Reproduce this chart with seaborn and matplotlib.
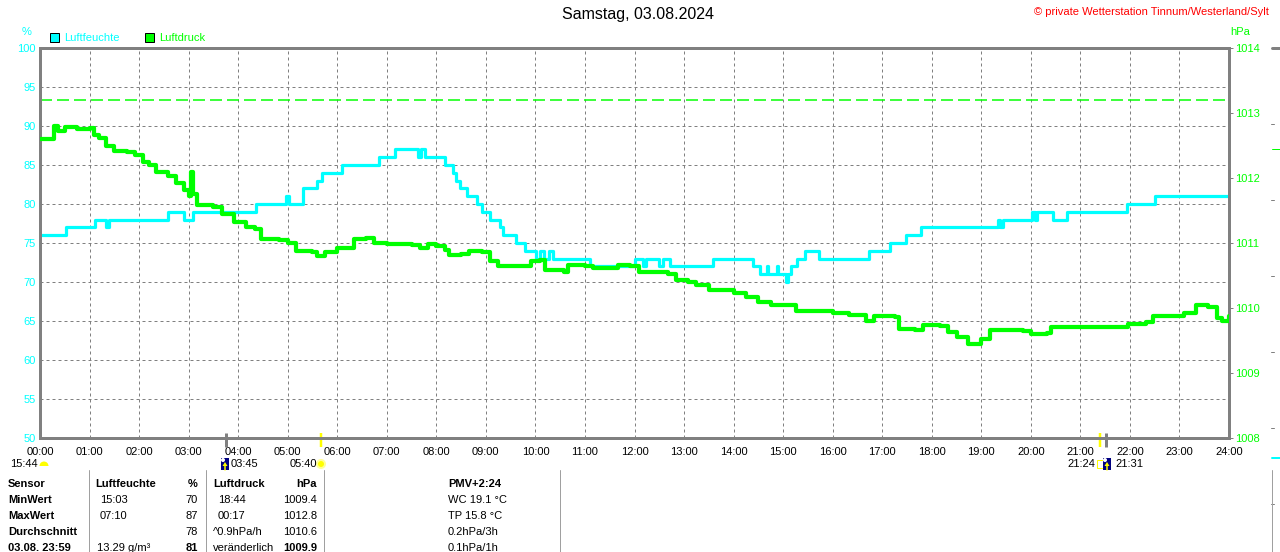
import matplotlib
matplotlib.use("Agg")
import matplotlib.pyplot as plt
import matplotlib.transforms as mtransforms
from matplotlib.patches import Rectangle, Circle, Wedge, Polygon
import seaborn as sns
import pandas as pd

sns.set_theme(style="white")
plt.rcParams['font.family'] = ['Liberation Sans', 'DejaVu Sans']
plt.rcParams['lines.scale_dashes'] = False

# ---------------- data ----------------
title = "Samstag, 03.08.2024"
copyright_text = "© private Wetterstation Tinnum/Westerland/Sylt"
series_names = ["Luftfeuchte", "Luftdruck"]

hum_times = ["00:00", "00:32", "01:07", "01:20", "01:24", "02:35", "02:55", "03:05",
             "04:22", "04:58", "05:02", "05:18", "05:35", "05:42", "06:06", "06:50",
             "07:10", "07:38", "07:42", "07:46", "08:10", "08:20", "08:24", "08:29",
             "08:37", "08:49", "08:55", "09:05", "09:17", "09:21", "09:37", "09:47",
             "10:01", "10:05", "10:10", "10:16", "10:21", "11:06", "12:00", "12:10",
             "12:14", "12:30", "12:34", "12:43", "13:35", "14:24", "14:32", "14:40",
             "14:42", "14:52", "14:54", "15:03", "15:06", "15:10", "15:17", "15:26",
             "15:44", "16:44", "17:10", "17:29", "17:47", "19:20", "19:23", "19:26",
             "20:02", "20:05", "20:08", "20:27", "20:44", "21:56", "22:30", "24:00"]
hum_values = [76, 77, 78, 77, 78, 79, 78, 79,
              80, 81, 80, 82, 83, 84, 85, 86,
              87, 86, 87, 86, 85, 84, 83, 82,
              81, 80, 79, 78, 77, 76, 75, 74,
              73, 74, 73, 74, 73, 72, 73, 72,
              73, 72, 73, 72, 73, 72, 71, 72,
              71, 72, 71, 70, 71, 72, 73, 74,
              73, 74, 75, 76, 77, 78, 77, 78,
              79, 78, 79, 78, 79, 80, 81, 81]

pres_times = ["00:00", "00:15", "00:17", "00:22", "00:30", "00:45", "01:00", "01:05",
              "01:12", "01:20", "01:30", "01:45", "01:55", "02:05", "02:12", "02:20",
              "02:35", "02:45", "02:55", "03:00", "03:03", "03:05", "03:10", "03:30",
              "03:40", "03:55", "04:10", "04:20", "04:28", "04:50", "05:00", "05:10",
              "05:30", "05:35", "05:45", "06:00", "06:15", "06:20", "06:35", "06:45",
              "07:00", "07:30", "07:40", "07:50", "08:00", "08:10", "08:15", "08:30",
              "08:40", "08:55", "09:05", "09:15", "09:45", "09:55", "10:05", "10:12",
              "10:35", "10:40", "11:00", "11:10", "11:30", "11:40", "11:55", "12:05",
              "12:40", "12:50", "13:05", "13:15", "13:30", "14:00", "14:15", "14:30",
              "14:45", "15:10", "15:15", "16:00", "16:20", "16:40", "16:50", "17:15",
              "17:20", "17:40", "17:50", "18:10", "18:20", "18:30", "18:44", "19:00",
              "19:10", "19:50", "20:00", "20:20", "20:25", "21:00", "21:50", "21:58",
              "22:20", "22:28", "22:50", "23:05", "23:20", "23:35", "23:45", "23:52",
              "24:00"]
pres_values = [1012.60, 1012.60, 1012.80, 1012.72, 1012.78, 1012.76, 1012.77, 1012.66,
               1012.62, 1012.50, 1012.42, 1012.40, 1012.36, 1012.24, 1012.20, 1012.10,
               1012.03, 1011.92, 1011.82, 1011.72, 1012.10, 1011.75, 1011.58, 1011.56,
               1011.45, 1011.33, 1011.25, 1011.22, 1011.06, 1011.05, 1011.00, 1010.88,
               1010.86, 1010.80, 1010.86, 1010.92, 1010.92, 1011.06, 1011.08, 1011.00,
               1010.98, 1010.97, 1010.92, 1010.98, 1010.96, 1010.90, 1010.82, 1010.83,
               1010.87, 1010.86, 1010.72, 1010.65, 1010.64, 1010.73, 1010.74, 1010.58,
               1010.56, 1010.66, 1010.64, 1010.61, 1010.62, 1010.66, 1010.65, 1010.55,
               1010.52, 1010.43, 1010.40, 1010.35, 1010.27, 1010.23, 1010.17, 1010.10,
               1010.05, 1010.05, 1009.95, 1009.93, 1009.90, 1009.80, 1009.87, 1009.86,
               1009.68, 1009.66, 1009.74, 1009.73, 1009.63, 1009.55, 1009.45, 1009.53,
               1009.66, 1009.65, 1009.60, 1009.62, 1009.71, 1009.71, 1009.71, 1009.76,
               1009.78, 1009.87, 1009.88, 1009.92, 1010.05, 1010.02, 1009.85, 1009.80,
               1009.88]

ref_pressure = 1013.2
hour_labels = ["%02d:00" % h for h in range(25)]
hum_ticks = [50, 55, 60, 65, 70, 75, 80, 85, 90, 95, 100]
pres_ticks = [1008, 1009, 1010, 1011, 1012, 1013, 1014]

astro_times = {"moonrise": "03:45", "sunrise": "05:40", "sunset": "21:24", "moonset": "21:31"}
moon_prev = "15:44"

table_rows = [
    ["Sensor", "Luftfeuchte", "%", "Luftdruck", "hPa", "PMV+2:24"],
    ["MinWert", "15:03", "70", "18:44", "1009.4", "WC 19.1 °C"],
    ["MaxWert", "07:10", "87", "00:17", "1012.8", "TP 15.8 °C"],
    ["Durchschnitt", "", "78", "^0.9hPa/h", "1010.6", "0.2hPa/3h"],
    ["03.08. 23:59", "13.29 g/m³", "81", "veränderlich", "1009.9", "0.1hPa/1h"],
]

# ---------------- helpers ----------------
def to_hours(lst):
    return [int(s[:2]) + int(s[3:]) / 60 for s in lst]

hum_df = pd.DataFrame({"t": to_hours(hum_times), "v": hum_values})
pres_df = pd.DataFrame({"t": to_hours(pres_times), "v": pres_values})

CYAN = "#00FFFF"
GREEN = "#00FF00"
GRAY = "#808080"
W, H = 1280, 552
L, R, T, B = 40, 1229, 48, 438
PX = 0.72  # points per pixel at 100 dpi

fig = plt.figure(figsize=(W / 100, H / 100), dpi=100)
fig.patch.set_facecolor("white")
ax = fig.add_axes([L / W, 1 - B / H, (R - L) / W, (B - T) / H])
ax.set_facecolor("white")
ax2 = ax.twinx()

# grid
for h in range(1, 24):
    ax.axvline(h, color=GRAY, lw=1 * PX, dashes=(3 * PX, 3 * PX), zorder=1)
for v in hum_ticks[1:-1]:
    ax.axhline(v, color=GRAY, lw=1 * PX, dashes=(3 * PX, 3 * PX), zorder=1)

sns.lineplot(data=hum_df, x="t", y="v", ax=ax, color=CYAN, lw=3.2 * PX,
             drawstyle="steps-post", estimator=None, sort=False, zorder=3)
ax2.axhline(ref_pressure, color=GREEN, lw=1.5 * PX, dashes=(12 * PX, 5 * PX), zorder=2)
sns.lineplot(data=pres_df, x="t", y="v", ax=ax2, color=GREEN, lw=4.2 * PX,
             drawstyle="steps-post", estimator=None, sort=False, zorder=3)

ax.set_xlim(0, 24)
ax.set_ylim(50, 100)
ax2.set_ylim(1008, 1014)
for a in (ax, ax2):
    a.set_xlabel("")
    a.set_ylabel("")
    for s in a.spines.values():
        s.set_color(GRAY)
        s.set_linewidth(3 * PX)

ax.set_xticks(range(25))
ax.set_xticklabels(hour_labels)
ax.tick_params(axis="x", direction="out", length=6 * PX, width=1 * PX, color=GRAY,
               labelsize=8, labelcolor="black", pad=2.5)
ax.set_yticks(hum_ticks)
ax.set_yticklabels([str(v) for v in hum_ticks])
ax.tick_params(axis="y", length=0, labelsize=8, labelcolor=CYAN, pad=3)
ax2.set_yticks(pres_ticks)
ax2.set_yticklabels([str(v) for v in pres_ticks])
ax2.tick_params(axis="y", direction="out", length=4 * PX, width=1 * PX, color=GRAY,
                labelsize=8, labelcolor=GREEN, pad=1.5)

# astro markers on the time axis
trans = mtransforms.blended_transform_factory(ax.transData, ax.transAxes)
dy = 1 / (B - T)
for key, col, lw in [("moonrise", GRAY, 3), ("moonset", GRAY, 3),
                     ("sunrise", "#FFFF00", 2.5), ("sunset", "#FFFF00", 2.5)]:
    t = to_hours([astro_times[key]])[0]
    ax.plot([t, t], [5 * dy, -9 * dy], transform=trans, color=col, lw=lw * PX,
            clip_on=False, zorder=5, solid_capstyle="butt")

# ---------------- overlay in pixel coordinates ----------------
ov = fig.add_axes([0, 0, 1, 1], zorder=10)
ov.set_xlim(0, W)
ov.set_ylim(H, 0)
ov.axis("off")
ov.patch.set_alpha(0)

ov.text(638, 15, title, ha="center", va="center", fontsize=11.5, color="black")
ov.text(1269, 12, copyright_text, ha="right", va="center", fontsize=8, color="#FF0000")
ov.text(27, 32, "%", ha="center", va="center", fontsize=8, color=CYAN)
ov.text(1240, 32, "hPa", ha="center", va="center", fontsize=8, color=GREEN)

# legend
for x0, col, name in [(50, CYAN, series_names[0]), (145, GREEN, series_names[1])]:
    ov.add_patch(Rectangle((x0, 33), 9, 9, facecolor=col, edgecolor="black", lw=1 * PX))
    ov.text(x0 + 14, 38, name, ha="left", va="center", fontsize=8, color=col)

# astro labels below the axis
ov.text(10, 464, moon_prev, ha="left", va="center", fontsize=8, color="black")
ov.add_patch(Wedge((44, 466), 4.5, 180, 360, facecolor="#FFFF00", edgecolor="none"))


def moon_icon(x, y):
    ov.add_patch(Rectangle((x, y), 8, 12, facecolor="#000080", edgecolor="none"))
    ov.add_patch(Circle((x + 2, y + 2), 2, facecolor="white", edgecolor="none"))
    ov.add_patch(Polygon([[x + 4, y + 4], [x + 1.5, y + 8], [x + 6.5, y + 8]],
                         facecolor="#FFFF00", edgecolor="none"))
    ov.plot([x + 4, x + 4], [y + 7, y + 12], color="#FFFF00", lw=1.5 * PX)


moon_icon(221, 458)
ov.text(231, 464, astro_times["moonrise"], ha="left", va="center", fontsize=8, color="black")
ov.text(290, 464, astro_times["sunrise"], ha="left", va="center", fontsize=8, color="black")
ov.add_patch(Circle((321, 464), 4, facecolor="#FFFF00", edgecolor="#FFFF99", lw=2 * PX))
ov.text(1067, 464, astro_times["sunset"], ha="left", va="center", fontsize=8, color="black")
ov.add_patch(Rectangle((1097, 460), 6, 8, facecolor="none", edgecolor="#FFFF00", lw=1 * PX))
moon_icon(1103, 458)
ov.text(1115, 464, astro_times["moonset"], ha="left", va="center", fontsize=8, color="black")

# table
for x in (89, 206, 324, 560):
    ov.plot([x, x], [470, 552], color="#A0A0A0", lw=1 * PX)
row_y = [484, 500, 516, 532, 548]
cols = [(8, "left"), (100, "left"), (198, "right"), (218, "left"), (317, "right"), (448, "left")]
for ri, row in enumerate(table_rows):
    for ci, cell in enumerate(row):
        x, ha = cols[ci]
        if ri == 0 and ci in (1, 3):
            x -= 5
        if ri >= 3 and ci == 3:
            x -= 5
        if ri == 4 and ci == 1:
            x -= 3
        bold = ri == 0 or ci == 0 or (ri == 4 and ci in (2, 4))
        ov.text(x, row_y[ri], cell, ha=ha, va="center", fontsize=8, color="black",
                fontweight="bold" if bold else "normal")

# remnants of the neighbouring panel on the right
ov.plot([1272, 1280], [48, 48], color=GRAY, lw=3 * PX)
for y in (124, 200, 276, 352, 428, 504):
    ov.plot([1271, 1274], [y, y], color=GRAY, lw=1 * PX)
ov.plot([1272, 1280], [149, 149], color=GREEN, lw=1 * PX)
ov.plot([1272, 1280], [458, 458], color=CYAN, lw=2 * PX)
ov.plot([1272, 1272], [470, 552], color="#A0A0A0", lw=1 * PX)

fig.savefig("out.png", dpi=100, facecolor="white")
